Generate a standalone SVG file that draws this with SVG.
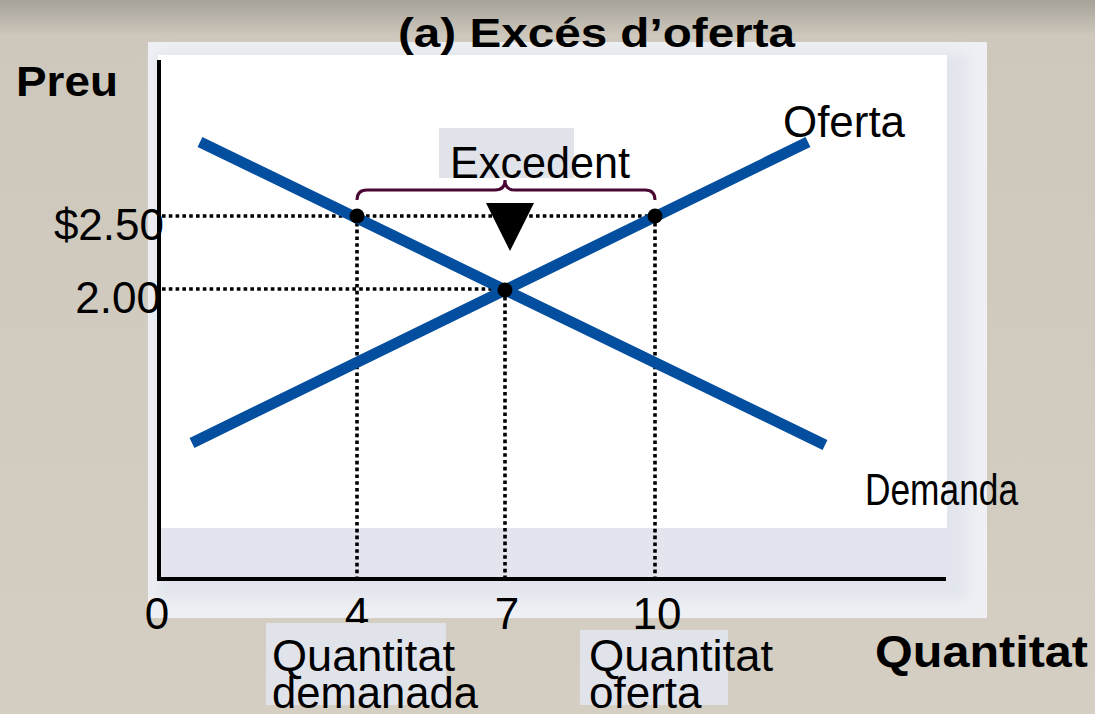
<svg xmlns="http://www.w3.org/2000/svg" width="1095" height="714" viewBox="0 0 1095 714">
<style>
.t{font-family:"Liberation Sans",Arial,sans-serif;font-size:44px;fill:#000}
.b{font-family:"Liberation Sans",Arial,sans-serif;font-weight:bold;fill:#000}
.dot{stroke:#000;stroke-width:3.6;stroke-dasharray:3.6 3.2;fill:none}
.curve{stroke:#034e9e;stroke-width:11;fill:none}
.axis{stroke:#000;stroke-width:4;fill:none}
.lbl{fill:#e0e3e9}
</style>
<defs>
<linearGradient id="bg" x1="0" y1="0" x2="0" y2="1">
<stop offset="0" stop-color="#a7a298"/>
<stop offset="0.05" stop-color="#cdc7bc"/>
<stop offset="1" stop-color="#d4cec3"/>
</linearGradient>
<filter id="soft" x="-5%" y="-5%" width="110%" height="110%">
<feGaussianBlur stdDeviation="7"/>
</filter>
</defs>
<rect width="1095" height="714" fill="url(#bg)"/>
<g id="panel">
<rect x="148" y="42" width="839" height="576" fill="#eff0f4"/>
<rect x="156" y="52" width="812" height="548" fill="#e2e5ed" filter="url(#soft)"/>
<rect x="158" y="55" width="789" height="473" fill="#fff"/>
</g>
<g id="title"><text class="b" x="398" y="47" font-size="41" textLength="397" lengthAdjust="spacingAndGlyphs">(a) Excés d’oferta</text></g>
<g id="axes">
<line class="axis" x1="159" y1="60" x2="159" y2="581"/>
<line class="axis" x1="157" y1="579" x2="946" y2="579"/>
</g>
<g id="connectors">
<path class="dot" d="M162,216 H655 M162,289 H505 M357,216 V578 M505,290 V578 M655,216 V578"/>
<line class="curve" x1="192" y1="443" x2="808" y2="142"/>
<line class="curve" x1="200" y1="142" x2="825" y2="445"/>
<path d="M357,200 Q357,190 367,190 L495,190 Q505,190 505,180 Q505,190 515,190 L645,190 Q655,190 655,200" stroke="#4a0733" stroke-width="3" fill="none"/>
<polygon points="486,203 534,203 510,251" fill="#000"/>
</g>
<g id="points">
<circle cx="357" cy="216" r="7.5" fill="#000"/>
<circle cx="655" cy="216" r="7.5" fill="#000"/>
<circle cx="505" cy="290" r="7.5" fill="#000"/>
</g>
<g id="label-preu"><text class="b" x="16" y="96" font-size="43" textLength="102" lengthAdjust="spacingAndGlyphs">Preu</text></g>
<g id="label-oferta"><text class="t" x="783" y="137" textLength="122" lengthAdjust="spacingAndGlyphs">Oferta</text></g>
<g id="label-demanda"><text class="t" x="865" y="505" font-size="34" textLength="153" lengthAdjust="spacingAndGlyphs">Demanda</text></g>
<g id="label-excedent">
<rect class="lbl" x="439" y="128" width="135" height="50"/>
<text class="t" x="450" y="178" textLength="180" lengthAdjust="spacingAndGlyphs">Excedent</text>
</g>
<g id="y-ticks">
<text class="t" x="164" y="240" text-anchor="end">$2.50</text>
<text class="t" x="161" y="313" text-anchor="end">2.00</text>
</g>
<g id="x-ticks">
<text class="t" x="157" y="629" text-anchor="middle">0</text>
<text class="t" x="357" y="629" text-anchor="middle">4</text>
<text class="t" x="507" y="629" text-anchor="middle">7</text>
<text class="t" x="657" y="629" text-anchor="middle">10</text>
</g>
<g id="label-qd">
<rect class="lbl" x="266" y="623" width="180" height="82"/>
<text class="t" x="272" y="671" textLength="183" lengthAdjust="spacingAndGlyphs">Quantitat</text>
<text class="t" x="272" y="708" textLength="206" lengthAdjust="spacingAndGlyphs">demanada</text>
</g>
<g id="label-qo">
<rect class="lbl" x="580" y="630" width="148" height="75"/>
<text class="t" x="589" y="671" textLength="184" lengthAdjust="spacingAndGlyphs">Quantitat</text>
<text class="t" x="589" y="708">oferta</text>
</g>
<g id="label-quantitat"><text class="b" x="875" y="667" font-size="44" textLength="213" lengthAdjust="spacingAndGlyphs">Quantitat</text></g>
</svg>
